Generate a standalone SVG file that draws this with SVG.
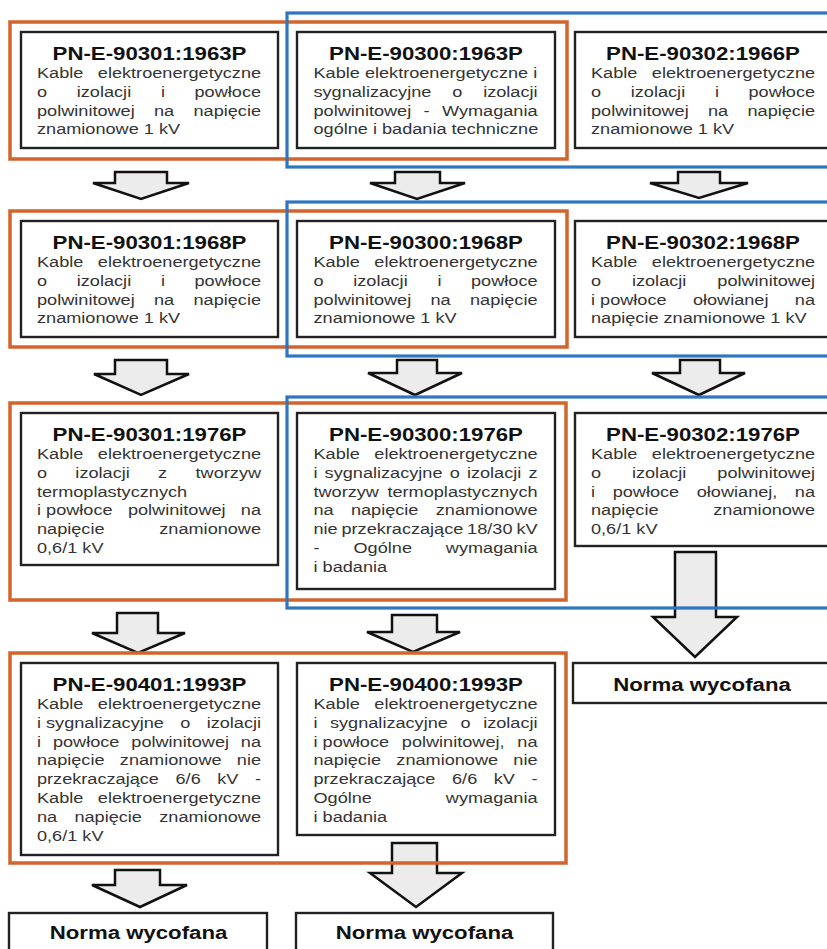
<svg xmlns="http://www.w3.org/2000/svg" width="827" height="949" viewBox="0 0 827 949">
<style>
.box{fill:#fff;stroke:#222;stroke-width:2.4}
.ar{fill:#ececec;stroke:#111;stroke-width:2.5;stroke-linejoin:miter}
.fo{fill:none;stroke:#d2642c;stroke-width:3.5}
.fb{fill:none;stroke:#2e75c2;stroke-width:3.2}
.t{font-family:"Liberation Sans",Arial,sans-serif;font-weight:bold;font-size:19px;fill:#111;text-anchor:middle}
.b{font-family:"Liberation Sans",Arial,sans-serif;font-size:15.5px;fill:#333}
.e{text-anchor:end}
</style>
<rect width="827" height="949" fill="#fff"/>
<g id="connectors">
<polygon class="ar" points="115,172 167,172 167,183 189,183 141,199 93,183 115,183"/>
<polygon class="ar" points="395,172 440,172 440,183 465,183 417,199 370,183 395,183"/>
<polygon class="ar" points="678,172 720,172 720,183 748,183 699,198 650,183 678,183"/>
<polygon class="ar" points="115,360 167,360 167,374 189,374 141,395 94,374 115,374"/>
<polygon class="ar" points="397,360 437,360 437,373 462,373 415,395 368,373 397,373"/>
<polygon class="ar" points="680,360 720,360 720,373 745,373 699,395 652,373 680,373"/>
<polygon class="ar" points="117,613 158,613 158,633 185,633 138,653 92,633 117,633"/>
<polygon class="ar" points="392,615 437,615 437,632 460,632 413,652 367,632 392,632"/>
<polygon class="ar" points="675,552 716,552 716,617 737,617 695,657 653,617 675,617"/>
<polygon class="ar" points="115,870 160,870 160,885 187,885 140,907 92,885 115,885"/>
<polygon class="ar" points="392,843 437,843 437,873 462,873 416,907 370,873 392,873"/>
</g>

<g id="n-90301-1963">
<rect class="box" x="21" y="32" width="257" height="116"/>
<text class="t" transform="translate(149.5 59.5) scale(1.17 1)">PN-E-90301:1963P</text>
<g class="b" transform="translate(37 0) scale(1.17 1)">
<text x="0" y="78">Kable</text><text class="e" x="191.5" y="78">elektroenergetyczne</text>
<text x="0" y="96.8">o</text><text x="34" y="96.8">izolacji</text><text x="105.9" y="96.8">i</text><text class="e" x="191.5" y="96.8">powłoce</text>
<text x="0" y="115.6">polwinitowej</text><text x="100" y="115.6">na</text><text class="e" x="191.5" y="115.6">napięcie</text>
<text x="0" y="134.4">znamionowe 1 kV</text>
</g>
</g>

<g id="n-90300-1963">
<rect class="box" x="297" y="32" width="258" height="116"/>
<text class="t" transform="translate(426 59.5) scale(1.17 1)">PN-E-90300:1963P</text>
<g class="b" transform="translate(313.5 0) scale(1.17 1)">
<text x="0" y="78">Kable elektroenergetyczne i</text>
<text x="0" y="96.8">sygnalizacyjne</text><text x="118.6" y="96.8">o</text><text class="e" x="191.5" y="96.8">izolacji</text>
<text x="0" y="115.6">polwinitowej</text><text x="94" y="115.6">-</text><text class="e" x="191.5" y="115.6">Wymagania</text>
<text x="0" y="134.4">ogólne i badania techniczne</text>
</g>
</g>

<g id="n-90302-1966">
<rect class="box" x="575" y="32" width="260" height="116"/>
<text class="t" transform="translate(703 59.5) scale(1.17 1)">PN-E-90302:1966P</text>
<g class="b" transform="translate(591 0) scale(1.17 1)">
<text x="0" y="78">Kable</text><text class="e" x="191.5" y="78">elektroenergetyczne</text>
<text x="0" y="96.8">o</text><text x="34" y="96.8">izolacji</text><text x="105.9" y="96.8">i</text><text class="e" x="191.5" y="96.8">powłoce</text>
<text x="0" y="115.6">polwinitowej</text><text x="100" y="115.6">na</text><text class="e" x="191.5" y="115.6">napięcie</text>
<text x="0" y="134.4">znamionowe 1 kV</text>
</g>
</g>

<g id="n-90301-1968">
<rect class="box" x="21" y="221" width="257" height="116"/>
<text class="t" transform="translate(149.5 248.5) scale(1.17 1)">PN-E-90301:1968P</text>
<g class="b" transform="translate(37 0) scale(1.17 1)">
<text x="0" y="267">Kable</text><text class="e" x="191.5" y="267">elektroenergetyczne</text>
<text x="0" y="285.8">o</text><text x="34" y="285.8">izolacji</text><text x="105.9" y="285.8">i</text><text class="e" x="191.5" y="285.8">powłoce</text>
<text x="0" y="304.6">polwinitowej</text><text x="100" y="304.6">na</text><text class="e" x="191.5" y="304.6">napięcie</text>
<text x="0" y="323.4">znamionowe 1 kV</text>
</g>
</g>

<g id="n-90300-1968">
<rect class="box" x="297" y="221" width="258" height="116"/>
<text class="t" transform="translate(426 248.5) scale(1.17 1)">PN-E-90300:1968P</text>
<g class="b" transform="translate(313.5 0) scale(1.17 1)">
<text x="0" y="267">Kable</text><text class="e" x="191.5" y="267">elektroenergetyczne</text>
<text x="0" y="285.8">o</text><text x="34" y="285.8">izolacji</text><text x="105.9" y="285.8">i</text><text class="e" x="191.5" y="285.8">powłoce</text>
<text x="0" y="304.6">polwinitowej</text><text x="100" y="304.6">na</text><text class="e" x="191.5" y="304.6">napięcie</text>
<text x="0" y="323.4">znamionowe 1 kV</text>
</g>
</g>

<g id="n-90302-1968">
<rect class="box" x="575" y="221" width="260" height="116"/>
<text class="t" transform="translate(703 248.5) scale(1.17 1)">PN-E-90302:1968P</text>
<g class="b" transform="translate(591 0) scale(1.17 1)">
<text x="0" y="267">Kable</text><text class="e" x="191.5" y="267">elektroenergetyczne</text>
<text x="0" y="285.8">o</text><text x="35" y="285.8">izolacji</text><text class="e" x="191.5" y="285.8">polwinitowej</text>
<text x="0" y="304.6">i powłoce</text><text x="87.1" y="304.6">ołowianej</text><text class="e" x="191.5" y="304.6">na</text>
<text x="0" y="323.4">napięcie znamionowe 1 kV</text>
</g>
</g>

<g id="n-90301-1976">
<rect class="box" x="21" y="413" width="257" height="152"/>
<text class="t" transform="translate(149.5 440.5) scale(1.17 1)">PN-E-90301:1976P</text>
<g class="b" transform="translate(37 0) scale(1.17 1)">
<text x="0" y="459">Kable</text><text class="e" x="191.5" y="459">elektroenergetyczne</text>
<text x="0" y="477.8">o</text><text x="32.8" y="477.8">izolacji</text><text x="103.5" y="477.8">z</text><text class="e" x="191.5" y="477.8">tworzyw</text>
<text x="0" y="496.6">termoplastycznych</text>
<text x="0" y="515.4">i powłoce</text><text x="77.7" y="515.4">polwinitowej</text><text class="e" x="191.5" y="515.4">na</text>
<text x="0" y="534.2">napięcie</text><text class="e" x="191.5" y="534.2">znamionowe</text>
<text x="0" y="553">0,6/1 kV</text>
</g>
</g>

<g id="n-90300-1976">
<rect class="box" x="297" y="413" width="258" height="176"/>
<text class="t" transform="translate(426 440.5) scale(1.17 1)">PN-E-90300:1976P</text>
<g class="b" transform="translate(313.5 0) scale(1.17 1)">
<text x="0" y="459">Kable</text><text class="e" x="191.5" y="459">elektroenergetyczne</text>
<text x="0" y="477.8">i</text><text x="9.5" y="477.8">sygnalizacyjne</text><text x="116.4" y="477.8">o</text><text x="131.1" y="477.8">izolacji</text><text class="e" x="191.5" y="477.8">z</text>
<text x="0" y="496.6">tworzyw</text><text class="e" x="191.5" y="496.6">termoplastycznych</text>
<text x="0" y="515.4">na</text><text x="32" y="515.4">napięcie</text><text class="e" x="191.5" y="515.4">znamionowe</text>
<text x="0" y="534.2">nie</text><text x="23.9" y="534.2">przekraczające</text><text x="131.3" y="534.2">18/30</text><text class="e" x="191.5" y="534.2">kV</text>
<text x="0" y="553">-</text><text x="34.2" y="553">Ogólne</text><text class="e" x="191.5" y="553">wymagania</text>
<text x="0" y="571.8">i badania</text>
</g>
</g>

<g id="n-90302-1976">
<rect class="box" x="575" y="413" width="260" height="133"/>
<text class="t" transform="translate(703 440.5) scale(1.17 1)">PN-E-90302:1976P</text>
<g class="b" transform="translate(591 0) scale(1.17 1)">
<text x="0" y="459">Kable</text><text class="e" x="191.5" y="459">elektroenergetyczne</text>
<text x="0" y="477.8">o</text><text x="35" y="477.8">izolacji</text><text class="e" x="191.5" y="477.8">polwinitowej</text>
<text x="0" y="496.6">i</text><text x="18.5" y="496.6">powłoce</text><text x="90.4" y="496.6">ołowianej,</text><text class="e" x="191.5" y="496.6">na</text>
<text x="0" y="515.4">napięcie</text><text class="e" x="191.5" y="515.4">znamionowe</text>
<text x="0" y="534.2">0,6/1 kV</text>
</g>
</g>

<g id="n-wycofana-c">
<rect class="box" x="573" y="663" width="262" height="40"/>
<text class="t" transform="translate(702 690.5) scale(1.17 1)">Norma wycofana</text>
</g>

<g id="n-90401-1993">
<rect class="box" x="21" y="663" width="257" height="192"/>
<text class="t" transform="translate(149.5 690.5) scale(1.17 1)">PN-E-90401:1993P</text>
<g class="b" transform="translate(37 0) scale(1.17 1)">
<text x="0" y="709">Kable</text><text class="e" x="191.5" y="709">elektroenergetyczne</text>
<text x="0" y="727.8">i sygnalizacyjne</text><text x="122.5" y="727.8">o</text><text class="e" x="191.5" y="727.8">izolacji</text>
<text x="0" y="746.6">i</text><text x="13.6" y="746.6">powłoce</text><text x="80.6" y="746.6">polwinitowej</text><text class="e" x="191.5" y="746.6">na</text>
<text x="0" y="765.4">napięcie</text><text x="70.8" y="765.4">znamionowe</text><text class="e" x="191.5" y="765.4">nie</text>
<text x="0" y="784.2">przekraczające</text><text x="118.4" y="784.2">6/6</text><text x="154.1" y="784.2">kV</text><text class="e" x="191.5" y="784.2">-</text>
<text x="0" y="803">Kable</text><text class="e" x="191.5" y="803">elektroenergetyczne</text>
<text x="0" y="821.8">na</text><text x="32" y="821.8">napięcie</text><text class="e" x="191.5" y="821.8">znamionowe</text>
<text x="0" y="840.6">0,6/1 kV</text>
</g>
</g>

<g id="n-90400-1993">
<rect class="box" x="297" y="663" width="258" height="172"/>
<text class="t" transform="translate(426 690.5) scale(1.17 1)">PN-E-90400:1993P</text>
<g class="b" transform="translate(313.5 0) scale(1.17 1)">
<text x="0" y="709">Kable</text><text class="e" x="191.5" y="709">elektroenergetyczne</text>
<text x="0" y="727.8">i</text><text x="14.1" y="727.8">sygnalizacyjne</text><text x="125.6" y="727.8">o</text><text class="e" x="191.5" y="727.8">izolacji</text>
<text x="0" y="746.6">i powłoce</text><text x="75.5" y="746.6">polwinitowej,</text><text class="e" x="191.5" y="746.6">na</text>
<text x="0" y="765.4">napięcie</text><text x="70.8" y="765.4">znamionowe</text><text class="e" x="191.5" y="765.4">nie</text>
<text x="0" y="784.2">przekraczające</text><text x="118.4" y="784.2">6/6</text><text x="154.1" y="784.2">kV</text><text class="e" x="191.5" y="784.2">-</text>
<text x="0" y="803">Ogólne</text><text class="e" x="191.5" y="803">wymagania</text>
<text x="0" y="821.8">i badania</text>
</g>
</g>

<g id="n-wycofana-a">
<rect class="box" x="9" y="913" width="258" height="50"/>
<text class="t" transform="translate(138.5 939) scale(1.17 1)">Norma wycofana</text>
</g>

<g id="n-wycofana-b">
<rect class="box" x="296" y="913" width="257" height="50"/>
<text class="t" transform="translate(424.5 939) scale(1.17 1)">Norma wycofana</text>
</g>

<g id="frames">
<rect class="fo" x="10" y="22" width="557" height="137"/>
<rect class="fo" x="10" y="211" width="557" height="136"/>
<rect class="fo" x="10" y="403" width="556" height="197"/>
<rect class="fo" x="10" y="653" width="556" height="210"/>
<rect class="fb" x="287" y="13" width="560" height="154"/>
<rect class="fb" x="287" y="202" width="560" height="154"/>
<rect class="fb" x="287" y="397" width="560" height="211"/>
</g>
</svg>
